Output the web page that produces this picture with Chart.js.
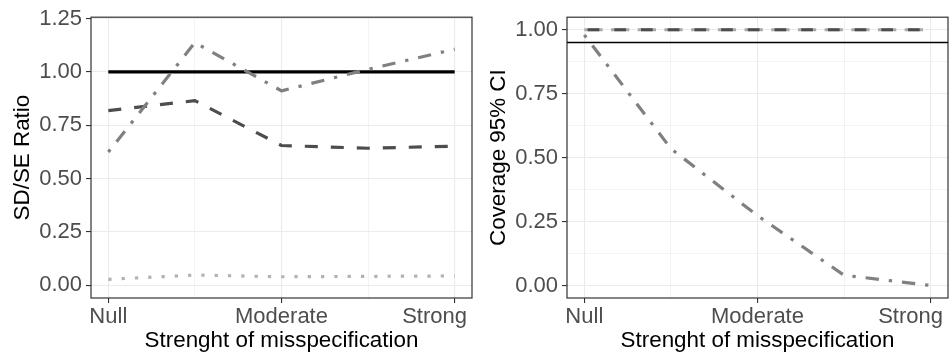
<!DOCTYPE html>
<html>
<head>
<meta charset="utf-8">
<script src="https://cdn.jsdelivr.net/npm/chart.js@4/dist/chart.umd.min.js"></script>
<style>
  html, body { margin: 0; padding: 0; background: #ffffff; }
  #wrap { position: relative; width: 952px; height: 356px; }
  .panel { position: absolute; top: 0; width: 476px; height: 356px; }
  #p1 { left: 0; }
  #p2 { left: 476px; }
</style>
</head>
<body>
<div id="wrap">
  <div class="panel" id="p1"><canvas id="c1" width="476" height="356"></canvas></div>
  <div class="panel" id="p2"><canvas id="c2" width="476" height="356"></canvas></div>
</div>
<script>
// ---- Data ----
const LEVEL_POS = [0, 1, 2, 3, 4];
const LEVEL_LABELS = ['Null', '', 'Moderate', '', 'Strong'];
const X_TITLE = 'Strenght of misspecification';

const RATIO_TITLE = 'SD/SE Ratio';
const ratioSolid   = [1.00, 1.00, 1.00, 1.00, 1.00];
const ratioDashed  = [0.818, 0.865, 0.655, 0.642, 0.652];
const ratioDotDash = [0.624, 1.137, 0.911, 1.012, 1.106];
const ratioDotted  = [0.028, 0.048, 0.040, 0.042, 0.044];
const RATIO_TICKS = [0, 0.25, 0.5, 0.75, 1.0, 1.25];
const RATIO_MINOR = [0.125, 0.375, 0.625, 0.875, 1.125];

const COV_TITLE = 'Coverage 95% CI';
const covDashed   = [1.00, 1.00, 1.00, 1.00, 1.00];
const covLongDash = [1.00, 1.00, 1.00, 1.00, 1.00];
const covDotDash  = [0.980, 0.535, 0.273, 0.040, 0.000];
const COV_TICKS = [0, 0.25, 0.5, 0.75, 1.0];
const COV_MINOR = [0.125, 0.375, 0.625, 0.875];
const COV_REF = 0.95;

// ---- Style ----
const FONT = '"Liberation Sans", Arial, Helvetica, sans-serif';
const GRID = '#ebebeb';
const TICKC = '#333333';
const TICK_TEXT = '#4d4d4d';
const TICK_SIZE = 22;
const EDGE_MARGIN = 9;
const LW = 3.2;
const STYLES = {
  solid:    { color: '#000000', dash: [], offset: 0 },
  dashed:   { color: '#4d4d4d', dash: [13, 13], offset: 0 },
  dashed2:  { color: '#4d4d4d', dash: [11.7, 15], offset: 23.4 },
  longdash: { color: '#aaaaaa', dash: [18.3, 8.4], offset: 0 },
  dotdash:  { color: '#808080', dash: [3.3, 10, 13.3, 10], offset: 0 },
  dotted:   { color: '#b3b3b3', dash: [3.3, 10], offset: 0 }
};

function pts(vals) { return vals.map((v, i) => ({ x: LEVEL_POS[i], y: v })); }
function ds(vals, style, order) {
  const s = STYLES[style];
  return {
    data: pts(vals), borderColor: s.color, borderDash: s.dash, borderDashOffset: s.offset,
    borderWidth: LW, borderCapStyle: 'butt', borderJoinStyle: 'round',
    pointRadius: 0, tension: 0, fill: false, order: order
  };
}

const panelBorder = {
  id: 'panelBorder',
  afterDatasetsDraw(chart) {
    const a = chart.chartArea, ctx = chart.ctx;
    ctx.save();
    ctx.strokeStyle = TICKC;
    ctx.lineWidth = 1.2;
    ctx.strokeRect(a.left, a.top, a.right - a.left, a.bottom - a.top);
    ctx.restore();
  }
};

const refLine = {
  id: 'refLine',
  afterDatasetsDraw(chart, args, opts) {
    if (opts.value === undefined) return;
    const a = chart.chartArea, ctx = chart.ctx;
    const y = chart.scales.y.getPixelForValue(opts.value);
    ctx.save();
    ctx.strokeStyle = '#000000';
    ctx.lineWidth = 1.3;
    ctx.beginPath();
    ctx.moveTo(a.left, y);
    ctx.lineTo(a.right, y);
    ctx.stroke();
    ctx.restore();
  }
};

// x tick labels, centred on their ticks but kept inside the canvas
const xLabels = {
  id: 'xLabels',
  afterDraw(chart) {
    const sx = chart.scales.x, ctx = chart.ctx;
    ctx.save();
    ctx.font = TICK_SIZE + 'px ' + FONT;
    ctx.fillStyle = TICK_TEXT;
    ctx.textBaseline = 'middle';
    ctx.textAlign = 'left';
    const y = sx.top + 5 + 1 + TICK_SIZE * 1.2 / 2;
    LEVEL_POS.forEach((v, i) => {
      const txt = LEVEL_LABELS[i];
      if (!txt) return;
      const w = ctx.measureText(txt).width;
      let left = sx.getPixelForValue(v) - w / 2;
      const maxLeft = chart.width - EDGE_MARGIN - w;
      if (left > maxLeft) left = maxLeft;
      if (left < 0) left = 0;
      ctx.fillText(txt, left, y);
    });
    ctx.restore();
  }
};

function makeChart(canvasId, datasets, yTitle, yMin, yMax, majors, minors, refValue) {
  const allY = majors.concat(minors).sort((a, b) => a - b);
  const isMajorY = v => majors.some(m => Math.abs(m - v) < 1e-9);
  const isMajorX = v => LEVEL_LABELS[Math.round(v)] !== '';
  return new Chart(document.getElementById(canvasId), {
    type: 'line',
    data: { datasets: datasets },
    plugins: [panelBorder, refLine, xLabels],
    options: {
      responsive: false, animation: false, devicePixelRatio: 1,
      layout: { padding: { left: 0, right: 4, top: 16, bottom: 0 } },
      plugins: { legend: { display: false }, tooltip: { enabled: false }, refLine: { value: refValue } },
      scales: {
        x: {
          type: 'linear', min: -0.2, max: 4.2,
          afterBuildTicks: s => { s.ticks = LEVEL_POS.map(v => ({ value: v })); },
          afterFit: s => { s.height = 58; s.paddingLeft = 0; s.paddingRight = 0; },
          border: { display: false },
          grid: {
            color: c => GRID,
            lineWidth: c => isMajorX(c.tick.value) ? 1.1 : 0.6,
            tickColor: c => isMajorX(c.tick.value) ? TICKC : 'rgba(0,0,0,0)',
            tickLength: 5, tickWidth: 1.1
          },
          ticks: { display: false },
          title: { display: true, text: X_TITLE, color: '#000000',
                   font: { family: FONT, size: 22.4 }, padding: { top: 0, bottom: 2 } }
        },
        y: {
          type: 'linear', min: yMin, max: yMax,
          afterBuildTicks: s => { s.ticks = allY.map(v => ({ value: v })); },
          afterFit: s => { s.width = 91; },
          border: { display: false },
          grid: {
            color: c => GRID,
            lineWidth: c => isMajorY(c.tick.value) ? 1.1 : 0.6,
            tickColor: c => isMajorY(c.tick.value) ? TICKC : 'rgba(0,0,0,0)',
            tickLength: 5, tickWidth: 1.1
          },
          ticks: {
            padding: 4, color: TICK_TEXT, font: { family: FONT, size: TICK_SIZE },
            callback: v => isMajorY(v) ? v.toFixed(2) : ''
          },
          title: { display: true, text: yTitle, color: '#000000',
                   font: { family: FONT, size: 22.4 }, padding: { top: 9, bottom: 0 } }
        }
      }
    }
  });
}

makeChart('c1', [
  ds(ratioSolid, 'solid', 4),
  ds(ratioDashed, 'dashed', 3),
  ds(ratioDotDash, 'dotdash', 2),
  ds(ratioDotted, 'dotted', 1)
], RATIO_TITLE, -0.0595, 1.256, RATIO_TICKS, RATIO_MINOR, undefined);

makeChart('c2', [
  ds(covLongDash, 'longdash', 3),
  ds(covDashed, 'dashed2', 2),
  ds(covDotDash, 'dotdash', 1)
], COV_TITLE, -0.049, 1.049, COV_TICKS, COV_MINOR, COV_REF);
</script>
</body>
</html>
